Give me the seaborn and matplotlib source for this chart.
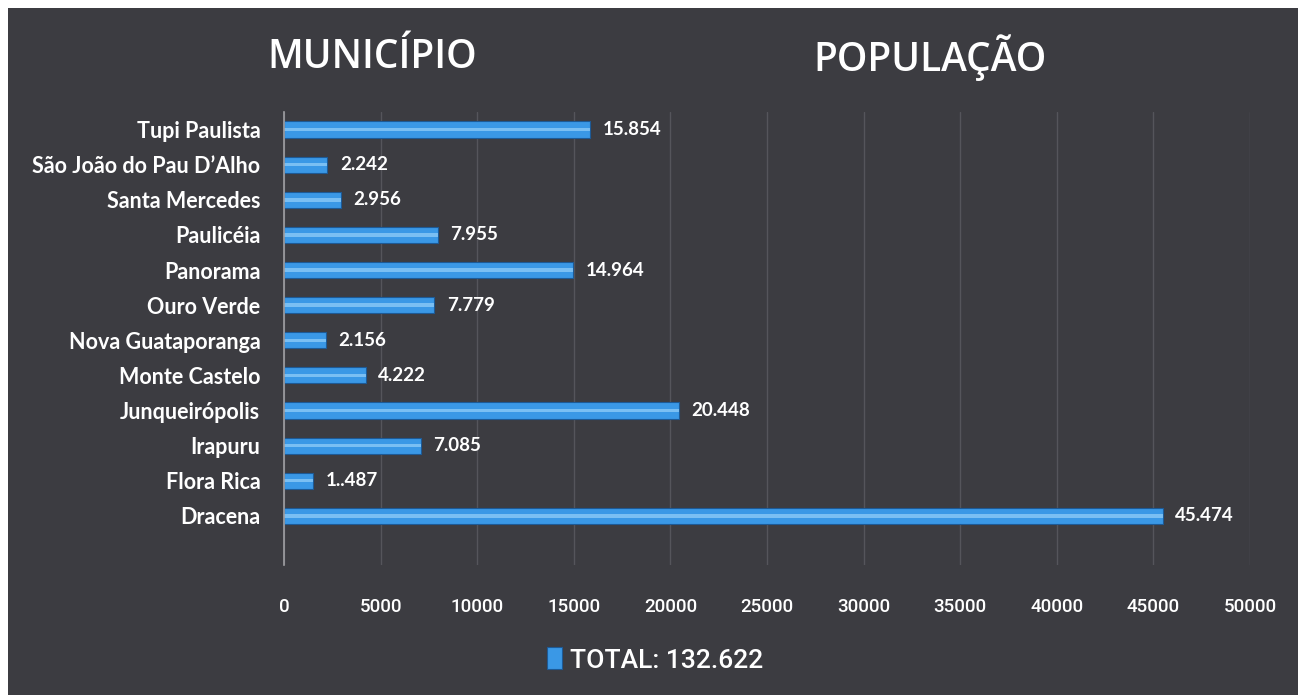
import matplotlib
matplotlib.use("Agg")
import matplotlib.pyplot as plt
import seaborn as sns
from matplotlib.patches import Rectangle

# --- data ---
municipios = ['Tupi Paulista', 'São João do Pau D’Alho', 'Santa Mercedes', 'Paulicéia',
              'Panorama', 'Ouro Verde', 'Nova Guataporanga', 'Monte Castelo',
              'Junqueirópolis', 'Irapuru', 'Flora Rica', 'Dracena']
populacao = [15854, 2242, 2956, 7955, 14964, 7779, 2156, 4222, 20448, 7085, 1487, 45474]
rotulos = ['15.854', '2.242', '2.956', '7.955', '14.964', '7.779', '2.156', '4.222',
           '20.448', '7.085', '1..487', '45.474']
xticks = [0, 5000, 10000, 15000, 20000, 25000, 30000, 35000, 40000, 45000, 50000]
total_label = 'TOTAL: 132.622'

sns.set_theme(style='dark')
plt.rcParams['font.family'] = ['Lato', 'DejaVu Sans']
narrow = ['Roboto', 'DejaVu Sans']

BG = '#3c3c41'
fig = plt.figure(figsize=(12.98, 6.95), dpi=100)
fig.patch.set_facecolor('white')
fig.patches.append(Rectangle((8 / 1298, 0), 1, 1 - 8 / 695, transform=fig.transFigure,
                             facecolor=BG, edgecolor='none', zorder=-10))

ax = fig.add_axes([284 / 1298, 1 - 565 / 695, (1250 - 284) / 1298, (565 - 112) / 695])
ax.set_facecolor('none')

# main bars
sns.barplot(x=populacao, y=municipios, orient='h', color='#3a98e6', width=0.46,
            edgecolor='#1d5a96', linewidth=0.8, saturation=1, ax=ax, label=total_label)
# glossy highlight stripe
sns.barplot(x=populacao, y=municipios, orient='h', color='#b0e0ff', width=0.1,
            linewidth=0, saturation=1, alpha=0.55, ax=ax)
if ax.get_legend() is not None:
    ax.get_legend().remove()

ax.bar_label(ax.containers[0], labels=rotulos, padding=9, color='white',
             fontsize=13.5, fontweight='bold')

ax.set_xlim(0, 50000)
ax.set_ylim(12.4, -0.5)
ax.set_xticks(xticks)
ax.set_xticklabels([str(t) for t in xticks], family=narrow, fontsize=13.5,
                   fontweight='medium', color='white')
ax.tick_params(axis='x', length=0, pad=24)
ax.tick_params(axis='y', length=0, pad=17, labelcolor='white', labelsize=15.5)
for lbl in ax.get_yticklabels():
    lbl.set_fontweight('bold')
ax.set_xlabel('')
ax.set_ylabel('')

ax.xaxis.grid(True, color='#55555b', linewidth=1)
ax.yaxis.grid(False)
ax.set_axisbelow(True)
for side in ['top', 'right', 'bottom']:
    ax.spines[side].set_visible(False)
ax.spines['left'].set_color('#a0a0a4')
ax.spines['left'].set_linewidth(1.2)

# titles
fig.text(372 / 1298, 1 - 58 / 695, 'MUNICÍPIO', ha='center', va='center', fontsize=28,
         color='white', fontweight='semibold', family=['Open Sans', 'DejaVu Sans'])
fig.text(930 / 1298, 1 - 58 / 695, 'POPULAÇÃO', ha='center', va='center', fontsize=28,
         color='white', fontweight='semibold', family=['Open Sans', 'DejaVu Sans'])

# legend
handles, labels = ax.get_legend_handles_labels()
leg = fig.legend(handles[:1], labels[:1], loc='center', bbox_to_anchor=(655 / 1298, 1 - 660 / 695),
                 frameon=False, handlelength=0.55, handleheight=0.9, handletextpad=0.3,
                 prop={'family': narrow, 'size': 19, 'weight': 'medium'})
for t in leg.get_texts():
    t.set_color('white')

fig.savefig('out.png', dpi=100, facecolor=fig.get_facecolor())
